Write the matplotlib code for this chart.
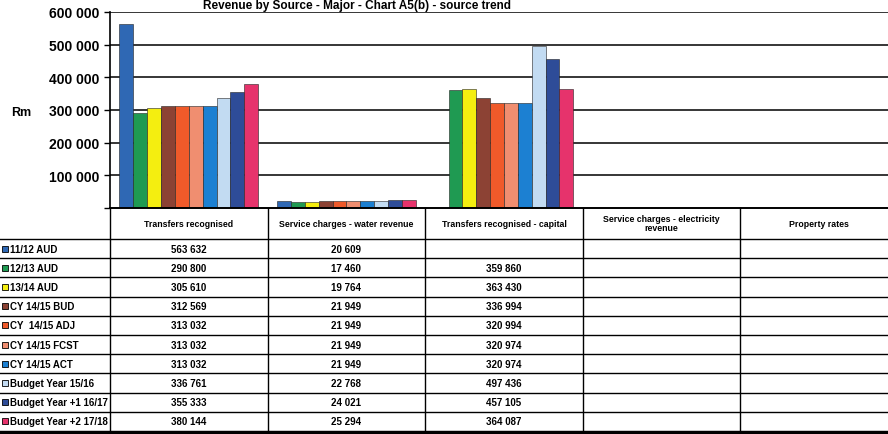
import numpy as np
import matplotlib
matplotlib.use('Agg')
import matplotlib.pyplot as plt
from matplotlib.patches import Rectangle

plt.rcParams['font.family'] = ['Liberation Sans', 'DejaVu Sans']

# data
categories = ['Transfers recognised', 'Service charges - water revenue',
              'Transfers recognised - capital', 'Service charges - electricity\nrevenue',
              'Property rates']
series = ['11/12 AUD', '12/13 AUD', '13/14 AUD', 'CY 14/15 BUD', 'CY  14/15 ADJ',
          'CY 14/15 FCST', 'CY 14/15 ACT', 'Budget Year 15/16',
          'Budget Year +1 16/17', 'Budget Year +2 17/18']
transfers = [563632, 290800, 305610, 312569, 313032, 313032, 313032, 336761, 355333, 380144]
water = [20609, 17460, 19764, 21949, 21949, 21949, 21949, 22768, 24021, 25294]
capital = [np.nan, 359860, 363430, 336994, 320994, 320974, 320974, 497436, 457105, 364087]
electricity = [np.nan] * 10
rates = [np.nan] * 10
colors = ['#2f68b4', '#1f9a52', '#f4ee10', '#8c4234', '#f05a2a', '#f08e70',
          '#1c80d2', '#c2dbf2', '#2e4c98', '#e6336c']

values = np.array([transfers, water, capital, electricity, rates])  # shape (cat, series)

W, H = 888, 435
fig = plt.figure(figsize=(W / 100, H / 100), dpi=100)

# plot area (pixel layout of the reference)
left, right, top, bottom = 110, 898, 13, 209
colw = (right - left) / 5.0
ax = fig.add_axes([left / W, 1 - bottom / H, (right - left) / W, (bottom - top) / H])

n = len(series)
group = 0.88
bw = group / n
x = np.arange(len(categories)) + 0.5
for j in range(n):
    xs = x - group / 2 + bw * (j + 0.5)
    ax.bar(xs, values[:, j], width=bw, color=colors[j], edgecolor='#222222',
           linewidth=0.4, zorder=3)

ax.set_xlim(0, 5)
ax.set_ylim(0, 600000)
yt = np.arange(0, 600001, 100000)
ax.set_yticks(yt)
ax.set_yticklabels(['' if v == 0 else '{:,}'.format(v).replace(',', ' ') for v in yt],
                   fontsize=10, fontweight='bold')
ax.tick_params(axis='y', length=4, width=1, pad=4)
ax.set_xticks([])
for v in yt[1:]:
    ax.axhline(v, color='black', lw=1.1, zorder=1)
for s in ['top', 'right', 'bottom']:
    ax.spines[s].set_visible(False)
ax.spines['left'].set_linewidth(1.2)
ax.patch.set_alpha(0)

# overlay in pixel coords for title, unit and the data table
ov = fig.add_axes([0, 0, 1, 1], zorder=5)
ov.set_xlim(0, W)
ov.set_ylim(H, 0)
ov.axis('off')
ov.patch.set_alpha(0)

ov.text(357, 9.5, 'Revenue by Source - Major - Chart A5(b) - source trend',
        ha='center', va='baseline', fontsize=8.5, fontweight='bold')
ov.text(21, 113, 'Rm', ha='center', va='center', fontsize=9, fontweight='bold')

head_bot = 240
rowh = (432 - head_bot) / n
edges = [left + colw * i for i in range(6)]

# header row
ov.plot([left, W], [bottom, bottom], color='black', lw=1.4)
for i, c in enumerate(categories):
    ov.text((edges[i] + edges[i + 1]) / 2, (bottom + head_bot) / 2, c,
            ha='center', va='center', fontsize=6.3, fontweight='bold', linespacing=1.0)

# row lines
for r in range(n + 1):
    yy = head_bot + rowh * r
    ov.plot([0, W], [yy, yy], color='black', lw=1.0)
ov.plot([0, W], [432.5, 432.5], color='black', lw=2.2)
for e in edges[:5]:
    ov.plot([e, e], [bottom, 432], color='black', lw=1.0)

# row labels with legend keys, values
for j in range(n):
    yc = head_bot + rowh * (j + 0.5)
    ov.add_patch(Rectangle((2, yc - 3), 6, 6, facecolor=colors[j],
                           edgecolor='black', lw=0.6))
    ov.text(10, yc, series[j], ha='left', va='center', fontsize=7, fontweight='bold')
    for i in range(len(categories)):
        v = values[i, j]
        if not np.isnan(v):
            ov.text((edges[i] + edges[i + 1]) / 2, yc,
                    '{:,}'.format(int(v)).replace(',', ' '),
                    ha='center', va='center', fontsize=7, fontweight='bold')

fig.savefig('out.png', dpi=100, facecolor='white')
